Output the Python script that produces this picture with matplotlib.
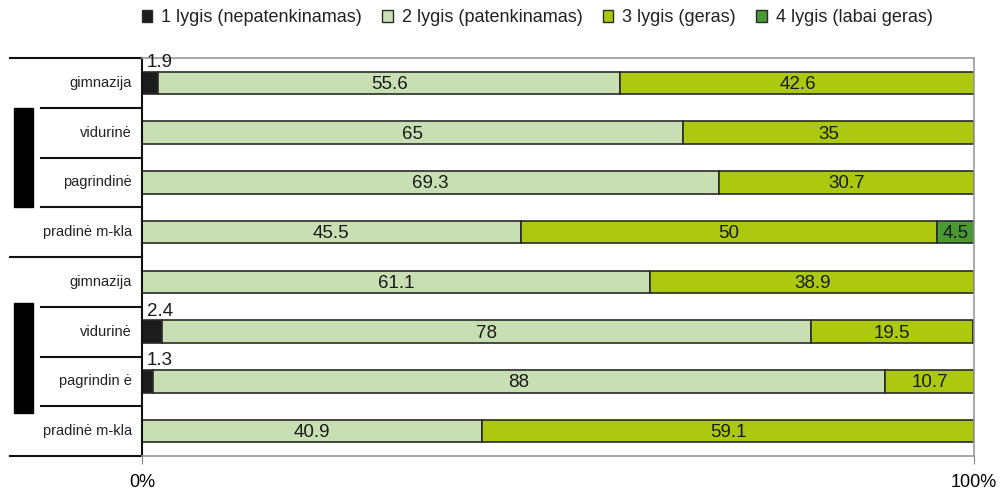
import matplotlib.pyplot as plt
from matplotlib.patches import Rectangle, Patch

plt.rcParams['font.family'] = ['Liberation Sans', 'DejaVu Sans']

categories = ["gimnazija", "vidurinė", "pagrindinė", "pradinė m-kla",
              "gimnazija", "vidurinė", "pagrindin ė", "pradinė m-kla"]
level1 = [1.9, 0, 0, 0, 0, 2.4, 1.3, 0]
level2 = [55.6, 65, 69.3, 45.5, 61.1, 78, 88, 40.9]
level3 = [42.6, 35, 30.7, 50, 38.9, 19.5, 10.7, 59.1]
level4 = [0, 0, 0, 4.5, 0, 0, 0, 0]
series_names = ["1 lygis (nepatenkinamas)", "2 lygis (patenkinamas)",
                "3 lygis (geras)", "4 lygis (labai geras)"]
colors = ["#1c1c1c", "#c8dfb4", "#adc90f", "#4a9a34"]

fig = plt.figure(figsize=(10.02, 4.93), dpi=100)
ax = fig.add_axes([142 / 1002, 1 - 456 / 493, 832 / 1002, 398 / 493])

rows = list(range(len(categories)))
left = [0] * len(categories)
for vals, col in zip([level1, level2, level3, level4], colors):
    ax.barh(rows, vals, left=left, height=0.45, color=col,
            edgecolor="#2a2a2a", linewidth=1.2)
    for i, v in enumerate(vals):
        if v == 0:
            continue
        if v < 3 and col == colors[0]:
            # tiny first-level values sit above the bar start
            ax.text(left[i] + 0.6, i - 0.24, f"{v:g}", ha="left", va="bottom",
                    fontsize=13.5, color="#1a1a1a")
        else:
            ax.text(left[i] + v / 2, i + 0.03, f"{v:g}", ha="center", va="center",
                    fontsize=13.5, color="#1a1a1a")
    left = [a + b for a, b in zip(left, vals)]

ax.set_xlim(0, 100)
ax.set_ylim(7.5, -0.5)
ax.set_yticks([])
ax.set_xticks([0, 100])
ax.set_xticklabels(["0%", "100%"], fontsize=13)
ax.tick_params(axis="x", length=6, color="#888888", pad=7)

for s in ["top", "right", "bottom"]:
    ax.spines[s].set_color("#999999")
    ax.spines[s].set_linewidth(1.2)
ax.spines["left"].set_color("#111111")
ax.spines["left"].set_linewidth(1.5)

# category labels and separators on the left
for i, c in enumerate(categories):
    ax.text(-1.2, i, c, ha="right", va="center", fontsize=10.5, color="#222222")

for b in [-0.5, 0.5, 1.5, 2.5, 3.5, 4.5, 5.5, 6.5, 7.5]:
    x0 = -15.9 if b in (-0.5, 3.5, 7.5) else -12.1
    ax.plot([x0, 0], [b, b], color="#111111", linewidth=1.5, clip_on=False)

ax.add_patch(Rectangle((-15.4, 0.505), 2.3, 2.0, color="black", clip_on=False))
ax.add_patch(Rectangle((-15.4, 4.42), 2.3, 2.22, color="black", clip_on=False))

handles = [Patch(facecolor=c, edgecolor="#2a2a2a", linewidth=1) for c in colors]
fig.legend(handles, series_names, loc="center", bbox_to_anchor=(0.536, 1 - 18 / 493),
           ncol=4, frameon=False, fontsize=13, handlelength=0.6, handleheight=0.6,
           handletextpad=0.5, columnspacing=1.1, labelcolor="#222222")

fig.savefig("out.png", dpi=100)
